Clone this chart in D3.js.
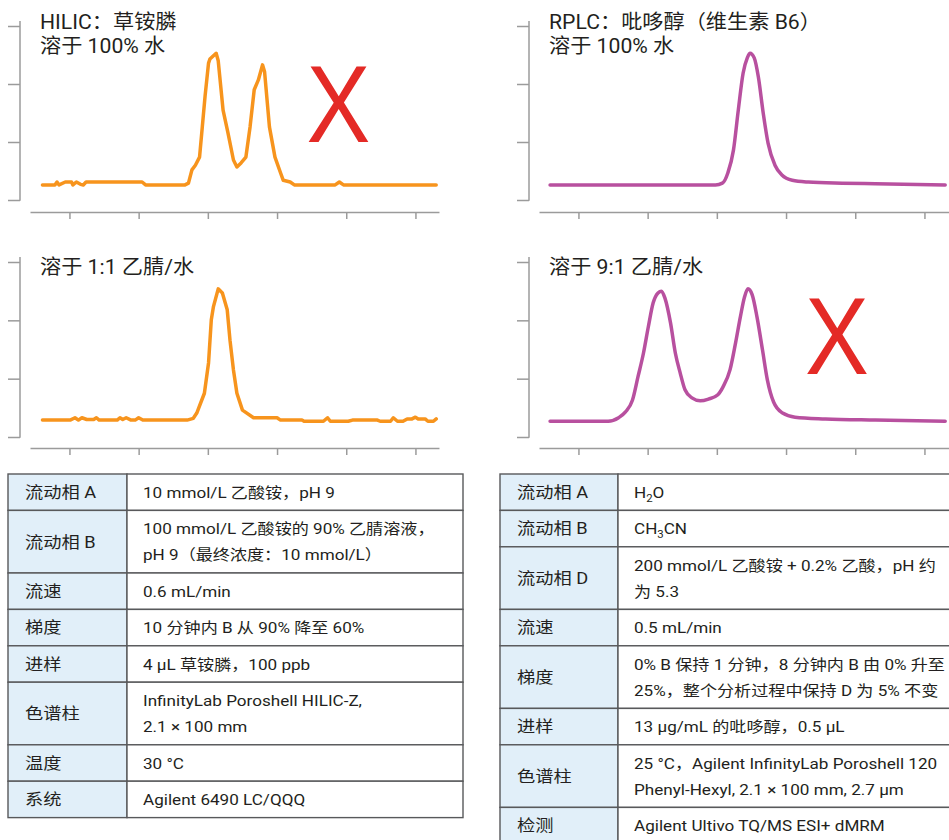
<!DOCTYPE html>
<html>
<head>
<meta charset="utf-8">
<script src="https://cdn.jsdelivr.net/npm/d3@7"></script>
<style>
  body { margin: 0; background: #fff; }
  svg { display: block; }
  text { font-family: Roboto, "Noto Sans CJK SC", sans-serif; fill: #231f20; }
</style>
</head>
<body>
<svg id="chart" width="949" height="840"></svg>
<script>
// ---- Chromatogram traces (time in min, signal in arbitrary units) ----
const hilicWaterTime = [0.61,0.79,0.82,0.85,0.94,1.03,1.05,1.10,1.16,1.20,1.24,2.05,2.10,2.67,2.72,2.77,2.82,2.88,2.92,2.96,3.01,3.03,3.12,3.15,3.22,3.29,3.37,3.42,3.48,3.55,3.61,3.67,3.73,3.79,3.82,3.89,3.97,4.05,4.09,4.19,4.25,4.84,4.90,4.96,6.30];
const hilicWaterSignal = [26,26,31,26,31,31,26,31,27,26,31,31,26,26,29,52,60,74,126,179,236,243,253,240,155,116,69,57,64,74,126,190,207,233,221,126,74,47,34,31,26,26,31,26,26];

const hilicMixTime = [0.61,1.01,1.08,1.13,1.18,1.25,1.35,1.39,1.43,1.69,1.73,1.77,1.82,1.89,1.95,2.00,2.06,2.70,2.79,2.84,2.95,3.01,3.05,3.08,3.15,3.21,3.28,3.32,3.37,3.42,3.50,3.66,4.00,4.05,4.36,4.39,4.67,4.73,4.77,5.03,5.09,5.45,5.49,5.64,5.68,5.74,5.82,5.88,5.95,6.00,6.04,6.14,6.18,6.26,6.30];
const hilicMixSignal = [29,29,33,29,33,30,30,33,29,29,33,30,33,29,29,33,29,29,32,41,75,127,201,223,254,247,218,166,115,75,46,33,33,29,29,27,27,33,27,27,29,29,27,27,33,27,27,31,31,34,31,31,27,27,31];

const rplcWaterTime = [0.59,2.98,3.08,3.16,3.24,3.31,3.38,3.44,3.48,3.54,3.60,3.67,3.74,3.84,3.94,4.09,4.32,4.81,5.29,6.30];
const rplcWaterSignal = [26,26,29,47,86,155,219,245,253,245,212,150,98,60,43,34,31,29,28,26];

const rplcMixTime = [0.59,1.43,1.58,1.68,1.78,1.86,1.94,2.01,2.08,2.15,2.20,2.25,2.33,2.40,2.47,2.54,2.64,2.76,2.88,3.01,3.09,3.19,3.27,3.34,3.40,3.45,3.51,3.58,3.66,3.73,3.82,3.95,4.13,4.57,5.29,6.30];
const rplcMixSignal = [27,27,33,43,63,103,144,189,230,247,250,238,196,144,110,81,67,62,65,72,86,115,161,206,240,254,244,206,149,98,60,41,34,31,29,27];

// Axis ticks (unlabelled)
const timeTicks = [1, 2, 3, 4, 5, 6];
const signalTicks = [0, 100, 200, 300];

// Panel titles
const hilicWaterTitle = ["HILIC：草铵膦", "溶于 100% 水"];
const hilicMixTitle = ["溶于 1:1 乙腈/水"];
const rplcWaterTitle = ["RPLC：吡哆醇（维生素 B6）", "溶于 100% 水"];
const rplcMixTitle = ["溶于 9:1 乙腈/水"];

// Method tables (a "_n" marks a subscript digit)
const hilicLabels = ["流动相 A", "流动相 B", "流速", "梯度", "进样", "色谱柱", "温度", "系统"];
const hilicValues = [
  ["10 mmol/L 乙酸铵，pH 9"],
  ["100 mmol/L 乙酸铵的 90% 乙腈溶液，", "pH 9（最终浓度：10 mmol/L）"],
  ["0.6 mL/min"],
  ["10 分钟内 B 从 90% 降至 60%"],
  ["4 µL 草铵膦，100 ppb"],
  ["InfinityLab Poroshell HILIC-Z,", "2.1 × 100 mm"],
  ["30 °C"],
  ["Agilent 6490 LC/QQQ"]
];
const rplcLabels = ["流动相 A", "流动相 B", "流动相 D", "流速", "梯度", "进样", "色谱柱", "检测"];
const rplcValues = [
  ["H_2O"],
  ["CH_3CN"],
  ["200 mmol/L 乙酸铵 + 0.2% 乙酸，pH 约", "为 5.3"],
  ["0.5 mL/min"],
  ["0% B 保持 1 分钟，8 分钟内 B 由 0% 升至", "25%，整个分析过程中保持 D 为 5% 不变"],
  ["13 µg/mL 的吡哆醇，0.5 µL"],
  ["25 °C，Agilent InfinityLab Poroshell 120", "Phenyl-Hexyl, 2.1 × 100 mm, 2.7 µm"],
  ["Agilent Ultivo TQ/MS ESI+ dMRM"]
];

const ORANGE = "#f7941d";
const PURPLE = "#b8509f";
const RED = "#e42a26";
const AXIS = "#9b9b9b";
const TITLE_STRETCH = 1.06;
const TABLE_STRETCH = 1.14;

const svg = d3.select("#chart");

function drawPanel(opts) {
  const { ox, yTop, yZero, yMax, axisY, tEnd, times, signals, color, curve, title, titleY, cross } = opts;
  const g = svg.append("g");

  const x = d3.scaleLinear().domain([0.43, tEnd]).range([ox + 30, ox + 30 + (tEnd - 0.43) * 69.2]);
  const y = d3.scaleLinear().domain([0, 300]).range([yZero, yMax]);

  // y axis: ticks only, line drawn separately so it reaches above the top tick
  const ya = g.append("g").attr("transform", `translate(${ox + 20},0)`)
    .call(d3.axisLeft(y).tickValues(signalTicks).tickSize(12).tickFormat(""));
  ya.select(".domain").remove();
  ya.selectAll("line").attr("stroke", AXIS).attr("stroke-width", 1.5);
  g.append("line").attr("x1", ox + 20).attr("x2", ox + 20).attr("y1", yTop).attr("y2", yZero + 0.75)
    .attr("stroke", AXIS).attr("stroke-width", 1.5);

  // x axis
  const xa = g.append("g").attr("transform", `translate(0,${axisY})`)
    .call(d3.axisBottom(x).tickValues(timeTicks).tickSize(7).tickSizeOuter(0).tickFormat(""));
  xa.select(".domain").attr("stroke", AXIS).attr("stroke-width", 1.5);
  xa.selectAll("line").attr("stroke", AXIS).attr("stroke-width", 1.5);

  // trace
  const pts = times.map((t, i) => [t, signals[i]]);
  g.append("path").datum(pts)
    .attr("fill", "none").attr("stroke", color).attr("stroke-width", 3.5)
    .attr("stroke-linejoin", "round").attr("stroke-linecap", "round")
    .attr("d", d3.line().x(d => x(d[0])).y(d => y(d[1])).curve(curve));

  // title
  const tt = g.append("text")
    .attr("transform", `translate(${ox + 40},${titleY}) scale(${TITLE_STRETCH},1)`)
    .style("font-size", "20px");
  title.forEach((line, i) => tt.append("tspan").attr("x", 0).attr("dy", i === 0 ? 0 : 24.5).text(line));

  // red cross marking the unsuitable condition
  if (cross) {
    g.append("text").attr("transform", `translate(${cross[0]},${cross[1]}) scale(0.87,1)`)
      .attr("text-anchor", "middle")
      .style("font-family", "'Liberation Sans', Arial, sans-serif")
      .style("font-size", "110px").style("fill", RED).text("X");
  }
}

drawPanel({ ox: 0, yTop: 21, yZero: 200, yMax: 26, axisY: 212, tEnd: 6.34,
  times: hilicWaterTime, signals: hilicWaterSignal, color: ORANGE, curve: d3.curveLinear,
  title: hilicWaterTitle, titleY: 28.5, cross: [338.5, 142] });
drawPanel({ ox: 0, yTop: 257, yZero: 437, yMax: 262, axisY: 448, tEnd: 6.34,
  times: hilicMixTime, signals: hilicMixSignal, color: ORANGE, curve: d3.curveLinear,
  title: hilicMixTitle, titleY: 273.5, cross: null });
drawPanel({ ox: 509, yTop: 21, yZero: 200, yMax: 26, axisY: 212, tEnd: 6.37,
  times: rplcWaterTime, signals: rplcWaterSignal, color: PURPLE, curve: d3.curveMonotoneX,
  title: rplcWaterTitle, titleY: 28.5, cross: null });
drawPanel({ ox: 509, yTop: 257, yZero: 437, yMax: 262, axisY: 448, tEnd: 6.37,
  times: rplcMixTime, signals: rplcMixSignal, color: PURPLE, curve: d3.curveMonotoneX,
  title: rplcMixTitle, titleY: 273.5, cross: [837, 374] });

// ---- Method tables ----
// Writes a string into a text element, lowering "_n" digits as subscripts.
function addRichText(sel, str) {
  let shift = 0;
  str.split(/(_\d)/).forEach(part => {
    if (!part) return;
    if (/^_\d$/.test(part)) {
      sel.append("tspan").attr("dy", 4 - shift).style("font-size", "10px").text(part[1]);
      shift = 4;
    } else {
      sel.append("tspan").attr("dy", -shift).text(part);
      shift = 0;
    }
  });
}

function drawTable(opts) {
  const { left, top, split, right, labels, values } = opts;
  const g = svg.append("g");
  const rowH = n => (n === 1 ? 36.4 : 62.6);
  let yPos = top;
  labels.forEach((lab, i) => {
    const lines = values[i];
    const h = rowH(lines.length);
    g.append("rect").attr("x", left).attr("y", yPos).attr("width", split - left).attr("height", h)
      .attr("fill", "#e1eff9").attr("stroke", "#58595b").attr("stroke-width", 1.4);
    g.append("rect").attr("x", split).attr("y", yPos).attr("width", right - split).attr("height", h)
      .attr("fill", "#fff").attr("stroke", "#58595b").attr("stroke-width", 1.4);
    const cy = yPos + h / 2;
    g.append("text")
      .attr("transform", `translate(${left + 17},${cy + 5.8}) scale(${TABLE_STRETCH},1)`)
      .style("font-size", "16px").text(lab);
    lines.forEach((ln, j) => {
      const off = lines.length === 1 ? 5.5 : (j === 0 ? -7.5 : 18.5);
      const t = g.append("text")
        .attr("transform", `translate(${split + 16},${cy + off}) scale(${TABLE_STRETCH},1)`)
        .style("font-size", "15px");
      addRichText(t, ln);
    });
    yPos += h;
  });
}

drawTable({ left: 8, top: 474, split: 127, right: 463, labels: hilicLabels, values: hilicValues });
drawTable({ left: 500, top: 474, split: 618, right: 970, labels: rplcLabels, values: rplcValues });
</script>
</body>
</html>
